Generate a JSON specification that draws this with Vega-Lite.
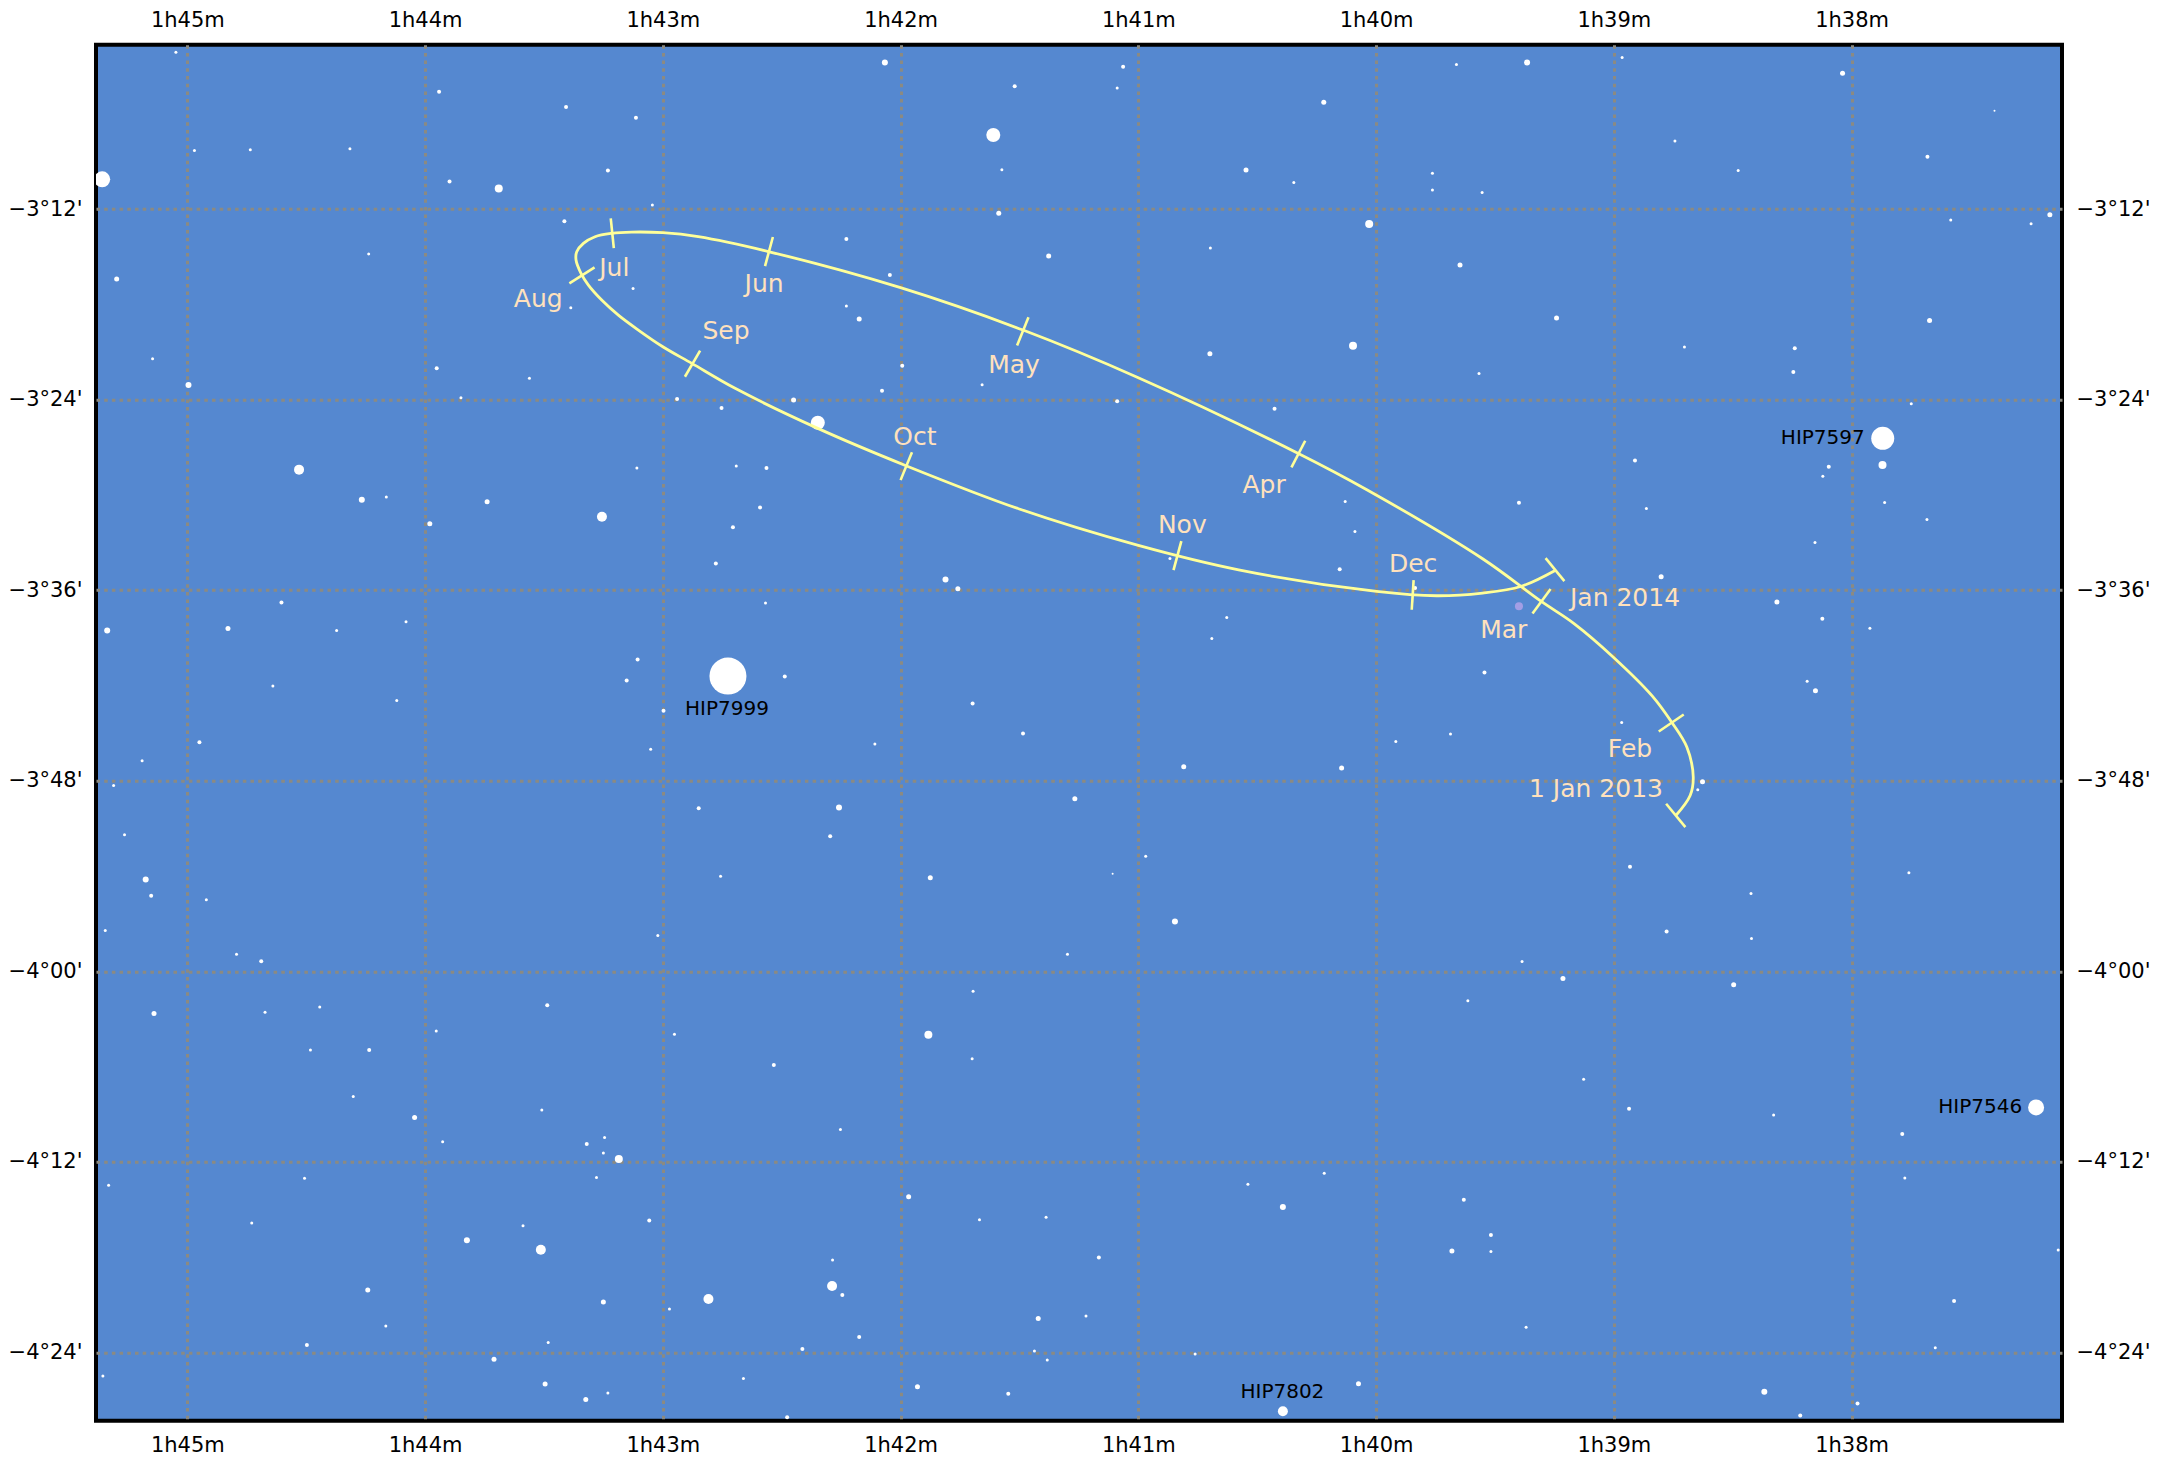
{"$schema":"https://vega.github.io/schema/vega-lite/v6.json","width":1966,"height":1376,"autosize":{"type":"none"},"padding":{"left":96,"right":95,"top":44.7,"bottom":40.3},"background":"white","config":{"view":{"fill":"#5588d0","stroke":"black","strokeWidth":4},"font":"DejaVu Sans"},
"datasets":{
"stars":[
{"ra":105.048,"dec":-182.13,"mag":13},{"ra":103.941,"dec":-184.61,"mag":12.5},{"ra":103.407,"dec":-185.58,"mag":12.5},{"ra":103.113,"dec":-186.25,"mag":12.5},{"ra":104.970,"dec":-188.31,"mag":13},{"ra":104.735,"dec":-188.26,"mag":13},{"ra":104.316,"dec":-188.20,"mag":13},{"ra":103.231,"dec":-189.57,"mag":12.5},{"ra":105.358,"dec":-190.13,"mag":9.5},{"ra":103.897,"dec":-190.26,"mag":12.5},{"ra":103.690,"dec":-190.70,"mag":11},{"ra":103.044,"dec":-191.75,"mag":13},{"ra":103.414,"dec":-192.76,"mag":12.5},{"ra":104.237,"dec":-194.83,"mag":13},{"ra":103.125,"dec":-197.00,"mag":13},{"ra":105.297,"dec":-196.41,"mag":12},{"ra":103.387,"dec":-198.21,"mag":13},{"ra":105.146,"dec":-201.43,"mag":13},{"ra":103.951,"dec":-202.03,"mag":12.5},{"ra":103.561,"dec":-202.66,"mag":13},{"ra":104.995,"dec":-203.08,"mag":11.5},{"ra":103.849,"dec":-203.88,"mag":13},{"ra":102.940,"dec":-203.96,"mag":12.5},{"ra":104.530,"dec":-208.41,"mag":10.5},{"ra":103.109,"dec":-208.31,"mag":13},
{"ra":102.066,"dec":-182.77,"mag":11.5},{"ra":101.064,"dec":-183.04,"mag":12.5},{"ra":101.520,"dec":-184.26,"mag":12.5},{"ra":101.089,"dec":-184.38,"mag":13},{"ra":100.220,"dec":-185.28,"mag":12},{"ra":101.610,"dec":-187.34,"mag":10},{"ra":101.574,"dec":-189.52,"mag":13},{"ra":100.547,"dec":-189.54,"mag":12},{"ra":100.346,"dec":-190.32,"mag":13},{"ra":99.763,"dec":-189.75,"mag":13},{"ra":99.763,"dec":-190.80,"mag":13},{"ra":101.587,"dec":-192.27,"mag":12},{"ra":100.029,"dec":-192.94,"mag":11},{"ra":102.228,"dec":-193.89,"mag":12.5},{"ra":100.697,"dec":-194.46,"mag":13},{"ra":101.377,"dec":-194.96,"mag":12},{"ra":102.045,"dec":-196.16,"mag":12.5},{"ra":102.228,"dec":-198.11,"mag":13},{"ra":102.174,"dec":-198.93,"mag":12},{"ra":101.993,"dec":-201.87,"mag":12.5},{"ra":100.097,"dec":-200.61,"mag":11},{"ra":100.699,"dec":-201.11,"mag":12},{"ra":101.657,"dec":-203.06,"mag":13},{"ra":102.078,"dec":-203.44,"mag":12.5},{"ra":102.450,"dec":-204.03,"mag":12},{"ra":102.753,"dec":-204.53,"mag":12.5},{"ra":101.089,"dec":-204.11,"mag":12.5},{"ra":102.348,"dec":-205.46,"mag":10},{"ra":100.427,"dec":-204.57,"mag":12.5},{"ra":102.564,"dec":-208.31,"mag":12.5},{"ra":102.691,"dec":-208.18,"mag":13},
{"ra":99.662,"dec":-182.89,"mag":13},{"ra":99.365,"dec":-182.77,"mag":11.5},{"ra":98.965,"dec":-182.45,"mag":13},{"ra":98.038,"dec":-183.44,"mag":12},{"ra":97.399,"dec":-185.81,"mag":13.5},{"ra":98.743,"dec":-187.72,"mag":13},{"ra":98.477,"dec":-189.57,"mag":13},{"ra":97.681,"dec":-188.71,"mag":12.5},{"ra":99.554,"dec":-190.95,"mag":13},{"ra":97.583,"dec":-192.69,"mag":13},{"ra":97.245,"dec":-192.92,"mag":13},{"ra":97.166,"dec":-192.36,"mag":12},{"ra":99.647,"dec":-195.53,"mag":12},{"ra":99.241,"dec":-198.86,"mag":12},{"ra":97.672,"dec":-199.01,"mag":12},{"ra":98.703,"dec":-200.69,"mag":13},{"ra":98.239,"dec":-200.77,"mag":12.5},{"ra":98.245,"dec":-202.26,"mag":12.5},{"ra":99.567,"dec":-202.35,"mag":13},{"ra":97.749,"dec":-204.26,"mag":13},{"ra":97.869,"dec":-206.44,"mag":9},{"ra":97.870,"dec":-208.12,"mag":11},{"ra":98.911,"dec":-207.83,"mag":12.5},{"ra":98.096,"dec":-208.23,"mag":12.5},{"ra":98.121,"dec":-208.83,"mag":13},
{"ra":104.266,"dec":-210.31,"mag":11.5},{"ra":104.163,"dec":-210.14,"mag":13},{"ra":103.739,"dec":-210.43,"mag":12},{"ra":103.980,"dec":-211.82,"mag":12},{"ra":103.256,"dec":-211.38,"mag":10.5},{"ra":102.777,"dec":-214.32,"mag":12.5},{"ra":104.604,"dec":-216.77,"mag":12.5},{"ra":105.337,"dec":-218.54,"mag":11.5},{"ra":104.829,"dec":-218.41,"mag":12},{"ra":104.372,"dec":-218.54,"mag":13},{"ra":104.080,"dec":-217.99,"mag":13},{"ra":103.106,"dec":-220.36,"mag":12.5},{"ra":103.152,"dec":-221.68,"mag":12.5},{"ra":104.640,"dec":-222.04,"mag":13},{"ra":104.119,"dec":-222.94,"mag":13},{"ra":102.997,"dec":-223.59,"mag":12.5},{"ra":104.949,"dec":-225.57,"mag":12.5},{"ra":103.051,"dec":-226.01,"mag":13},{"ra":105.190,"dec":-226.74,"mag":13},{"ra":105.310,"dec":-228.30,"mag":13},{"ra":105.264,"dec":-231.40,"mag":13},{"ra":102.849,"dec":-229.74,"mag":12.5},{"ra":105.175,"dec":-234.22,"mag":11.5},{"ra":105.152,"dec":-235.24,"mag":12.5},{"ra":104.920,"dec":-235.50,"mag":13},{"ra":103.021,"dec":-237.74,"mag":13},{"ra":105.345,"dec":-237.43,"mag":13},{"ra":104.793,"dec":-238.92,"mag":13},{"ra":104.689,"dec":-239.36,"mag":12.5},
{"ra":102.591,"dec":-210.79,"mag":12.5},{"ra":102.705,"dec":-212.03,"mag":12.5},{"ra":101.811,"dec":-215.32,"mag":11.5},{"ra":101.759,"dec":-215.91,"mag":12},{"ra":102.568,"dec":-216.81,"mag":13},{"ra":100.130,"dec":-210.41,"mag":13},{"ra":100.089,"dec":-212.30,"mag":13},{"ra":100.867,"dec":-214.00,"mag":13},{"ra":100.153,"dec":-214.69,"mag":12.5},{"ra":99.836,"dec":-215.87,"mag":12.5},{"ra":100.628,"dec":-217.72,"mag":13},{"ra":100.691,"dec":-219.04,"mag":13},{"ra":102.726,"dec":-221.41,"mag":8},{"ra":102.487,"dec":-221.43,"mag":12.5},{"ra":101.697,"dec":-223.13,"mag":12.5},{"ra":101.485,"dec":-225.02,"mag":12.5},{"ra":102.108,"dec":-225.69,"mag":13},{"ra":99.917,"dec":-225.53,"mag":13},{"ra":100.809,"dec":-227.12,"mag":12},{"ra":100.145,"dec":-227.20,"mag":12},{"ra":101.267,"dec":-229.14,"mag":12},{"ra":102.259,"dec":-229.68,"mag":11.5},{"ra":102.296,"dec":-231.49,"mag":12.5},{"ra":102.757,"dec":-234.01,"mag":13},{"ra":101.875,"dec":-234.11,"mag":12},{"ra":100.969,"dec":-232.75,"mag":13},{"ra":101.108,"dec":-233.86,"mag":13.5},{"ra":100.846,"dec":-236.86,"mag":11.5},{"ra":101.298,"dec":-238.92,"mag":13},
{"ra":99.399,"dec":-210.50,"mag":12.5},{"ra":98.863,"dec":-210.85,"mag":13},{"ra":97.861,"dec":-210.48,"mag":13},{"ra":97.683,"dec":-211.55,"mag":13},{"ra":98.154,"dec":-212.99,"mag":13},{"ra":98.801,"dec":-215.16,"mag":12},{"ra":98.314,"dec":-216.75,"mag":12},{"ra":98.123,"dec":-217.80,"mag":12.5},{"ra":97.923,"dec":-218.39,"mag":13},{"ra":99.544,"dec":-221.18,"mag":12.5},{"ra":98.187,"dec":-221.73,"mag":13},{"ra":98.152,"dec":-222.34,"mag":12},{"ra":98.967,"dec":-224.33,"mag":13},{"ra":99.687,"dec":-225.06,"mag":13},{"ra":98.627,"dec":-228.07,"mag":12},{"ra":98.647,"dec":-228.57,"mag":13},{"ra":98.932,"dec":-233.42,"mag":12.5},{"ra":97.759,"dec":-233.80,"mag":13},{"ra":98.423,"dec":-235.10,"mag":13},{"ra":98.778,"dec":-237.49,"mag":12.5},{"ra":98.421,"dec":-237.93,"mag":13},{"ra":99.386,"dec":-239.38,"mag":13},
{"ra":105.140,"dec":-242.65,"mag":12},{"ra":104.673,"dec":-242.58,"mag":13},{"ra":104.443,"dec":-242.25,"mag":13},{"ra":103.486,"dec":-242.14,"mag":12.5},{"ra":103.953,"dec":-243.76,"mag":13},{"ra":102.951,"dec":-243.97,"mag":13},{"ra":104.482,"dec":-244.96,"mag":13},{"ra":104.235,"dec":-244.96,"mag":12.5},{"ra":104.302,"dec":-247.89,"mag":13},{"ra":104.044,"dec":-249.20,"mag":12},{"ra":103.509,"dec":-248.73,"mag":13},{"ra":103.926,"dec":-250.73,"mag":13},{"ra":103.245,"dec":-250.46,"mag":13},{"ra":103.320,"dec":-250.87,"mag":12.5},{"ra":103.250,"dec":-251.44,"mag":13},{"ra":103.185,"dec":-251.82,"mag":11},{"ra":105.331,"dec":-253.48,"mag":13},{"ra":104.507,"dec":-253.04,"mag":13},{"ra":103.279,"dec":-252.99,"mag":13},{"ra":104.729,"dec":-255.85,"mag":13},{"ra":103.057,"dec":-255.70,"mag":12.5},{"ra":103.588,"dec":-256.02,"mag":13},{"ra":103.824,"dec":-256.94,"mag":11.5},{"ra":103.513,"dec":-257.53,"mag":10.5},{"ra":104.241,"dec":-260.07,"mag":12},{"ra":102.808,"dec":-260.64,"mag":10.5},{"ra":103.250,"dec":-260.82,"mag":12},{"ra":102.972,"dec":-261.26,"mag":13},{"ra":104.165,"dec":-262.34,"mag":13},{"ra":104.497,"dec":-263.53,"mag":12.5},{"ra":103.482,"dec":-263.38,"mag":13},{"ra":103.710,"dec":-264.43,"mag":12},{"ra":105.355,"dec":-265.48,"mag":13},{"ra":103.495,"dec":-265.99,"mag":12},{"ra":103.231,"dec":-266.55,"mag":13},{"ra":103.324,"dec":-266.97,"mag":12},
{"ra":101.695,"dec":-241.26,"mag":13},{"ra":101.883,"dec":-243.99,"mag":11},{"ra":102.533,"dec":-245.90,"mag":12.5},{"ra":101.699,"dec":-245.50,"mag":13},{"ra":102.253,"dec":-249.97,"mag":13},{"ra":100.218,"dec":-252.72,"mag":13},{"ra":100.539,"dec":-253.41,"mag":13},{"ra":101.966,"dec":-254.19,"mag":12},{"ra":100.392,"dec":-254.84,"mag":11.5},{"ra":101.668,"dec":-255.64,"mag":13},{"ra":101.388,"dec":-255.49,"mag":13},{"ra":102.286,"dec":-258.18,"mag":13},{"ra":101.166,"dec":-258.03,"mag":12.5},{"ra":102.288,"dec":-259.82,"mag":10.5},{"ra":102.245,"dec":-260.38,"mag":12.5},{"ra":101.421,"dec":-261.87,"mag":12},{"ra":101.220,"dec":-261.71,"mag":13},{"ra":102.174,"dec":-263.03,"mag":12.5},{"ra":102.413,"dec":-263.78,"mag":12.5},{"ra":101.437,"dec":-263.91,"mag":13},{"ra":100.761,"dec":-264.10,"mag":13},{"ra":101.383,"dec":-264.48,"mag":13},{"ra":102.661,"dec":-265.65,"mag":13},{"ra":101.929,"dec":-266.16,"mag":12},{"ra":101.547,"dec":-266.60,"mag":12.5},{"ra":100.074,"dec":-265.97,"mag":12},{"ra":102.477,"dec":-268.09,"mag":12.5},{"ra":100.392,"dec":-267.71,"mag":10.5},
{"ra":99.214,"dec":-240.46,"mag":12},{"ra":98.496,"dec":-240.84,"mag":12},{"ra":99.614,"dec":-241.85,"mag":13},{"ra":99.127,"dec":-246.80,"mag":13},{"ra":98.936,"dec":-248.65,"mag":12.5},{"ra":98.328,"dec":-249.05,"mag":13},{"ra":97.224,"dec":-248.57,"mag":9.5},{"ra":97.787,"dec":-250.25,"mag":12.5},{"ra":97.776,"dec":-253.02,"mag":13},{"ra":99.631,"dec":-254.38,"mag":12.5},{"ra":99.517,"dec":-256.61,"mag":12.5},{"ra":99.681,"dec":-257.61,"mag":12},{"ra":99.517,"dec":-257.65,"mag":13},{"ra":97.131,"dec":-257.55,"mag":13},{"ra":97.569,"dec":-260.76,"mag":12.5},{"ra":99.369,"dec":-262.42,"mag":13},{"ra":97.648,"dec":-263.70,"mag":13},{"ra":98.367,"dec":-266.47,"mag":11.5},{"ra":97.975,"dec":-267.21,"mag":12.5},{"ra":98.216,"dec":-267.98,"mag":12.5}
],
"object":[{"ra":99.399,"dec":-217.02,"mag":11.5}],
"orbit":[
{"i":0,"ra":98.739,"dec":-230.19},{"i":1,"ra":98.679,"dec":-228.93},{"i":2,"ra":98.666,"dec":-227.77},{"i":3,"ra":98.693,"dec":-225.88},{"i":4,"ra":98.755,"dec":-224.35},{"i":5,"ra":98.838,"dec":-222.67},{"i":6,"ra":99.002,"dec":-220.22},{"i":7,"ra":99.166,"dec":-218.12},{"i":8,"ra":99.305,"dec":-216.71},{"i":9,"ra":99.552,"dec":-214.02},{"i":10,"ra":100.037,"dec":-209.69},{"i":11,"ra":100.327,"dec":-207.39},{"i":12,"ra":101.000,"dec":-202.62},{"i":13,"ra":101.485,"dec":-199.62},{"i":14,"ra":102.000,"dec":-196.95},{"i":15,"ra":102.552,"dec":-194.69},{"i":16,"ra":102.851,"dec":-193.74},{"i":17,"ra":103.000,"dec":-193.49},{"i":18,"ra":103.131,"dec":-193.45},{"i":19,"ra":103.215,"dec":-193.53},{"i":20,"ra":103.285,"dec":-193.74},{"i":21,"ra":103.334,"dec":-194.16},{"i":22,"ra":103.362,"dec":-194.69},{"i":23,"ra":103.365,"dec":-195.21},{"i":24,"ra":103.344,"dec":-196.05},{"i":25,"ra":103.313,"dec":-196.79},{"i":26,"ra":103.257,"dec":-197.73},{"i":27,"ra":103.187,"dec":-198.68},{"i":28,"ra":103.103,"dec":-199.62},{"i":29,"ra":103.000,"dec":-200.67},{"i":30,"ra":102.878,"dec":-201.72},{"i":31,"ra":102.696,"dec":-203.29},{"i":32,"ra":102.348,"dec":-205.81},{"i":33,"ra":101.977,"dec":-208.16},{"i":34,"ra":101.504,"dec":-210.87},{"i":35,"ra":101.000,"dec":-213.18},{"i":36,"ra":100.578,"dec":-214.72},{"i":37,"ra":99.998,"dec":-216.08},{"i":38,"ra":99.745,"dec":-216.35},{"i":39,"ra":99.552,"dec":-216.18},{"i":40,"ra":99.392,"dec":-215.77},{"i":41,"ra":99.245,"dec":-214.74}
],
"ticks":[
{"m":"Jan 2013","e":0,"ra":98.780,"dec":-229.45},{"m":"Jan 2013","e":1,"ra":98.699,"dec":-230.92},
{"m":"Feb","e":0,"ra":98.811,"dec":-224.90},{"m":"Feb","e":1,"ra":98.706,"dec":-223.83},
{"m":"Mar","e":0,"ra":99.342,"dec":-217.47},{"m":"Mar","e":1,"ra":99.266,"dec":-215.93},
{"m":"Apr","e":0,"ra":100.356,"dec":-208.27},{"m":"Apr","e":1,"ra":100.298,"dec":-206.59},
{"m":"May","e":0,"ra":101.510,"dec":-200.59},{"m":"May","e":1,"ra":101.462,"dec":-198.82},
{"m":"Jun","e":0,"ra":102.570,"dec":-195.59},{"m":"Jun","e":1,"ra":102.537,"dec":-193.76},
{"m":"Jul","e":0,"ra":103.219,"dec":-192.59},{"m":"Jul","e":1,"ra":103.206,"dec":-194.46},
{"m":"Aug","e":0,"ra":103.393,"dec":-196.68},{"m":"Aug","e":1,"ra":103.287,"dec":-195.67},
{"m":"Sep","e":0,"ra":102.907,"dec":-202.56},{"m":"Sep","e":1,"ra":102.843,"dec":-200.92},
{"m":"Oct","e":0,"ra":102.000,"dec":-209.07},{"m":"Oct","e":1,"ra":101.952,"dec":-207.32},
{"m":"Nov","e":0,"ra":100.852,"dec":-214.74},{"m":"Nov","e":1,"ra":100.819,"dec":-212.91},
{"m":"Dec","e":0,"ra":99.850,"dec":-217.23},{"m":"Dec","e":1,"ra":99.842,"dec":-215.37},
{"m":"Jan 2014","e":0,"ra":99.287,"dec":-213.98},{"m":"Jan 2014","e":1,"ra":99.208,"dec":-215.43}
],
"months":[
{"t":"Jul","ra":103.204,"dec":-195.72},{"t":"Aug","ra":103.524,"dec":-197.68},{"t":"Sep","ra":102.734,"dec":-199.67},{"t":"Jun","ra":102.574,"dec":-196.73},{"t":"May","ra":101.523,"dec":-201.81},{"t":"Oct","ra":101.940,"dec":-206.34},{"t":"Apr","ra":100.471,"dec":-209.37},{"t":"Nov","ra":100.815,"dec":-211.87},{"t":"Dec","ra":99.844,"dec":-214.35},{"t":"Jan 2014","ra":98.953,"dec":-216.49},{"t":"Mar","ra":99.463,"dec":-218.52},{"t":"Feb","ra":98.932,"dec":-226.00},{"t":"1 Jan 2013","ra":99.075,"dec":-228.51}
],
"names":[
{"t":"HIP7597","ra":98.121,"dec":-206.44},{"t":"HIP7546","ra":97.459,"dec":-248.57},{"t":"HIP7999","ra":102.730,"dec":-223.47},{"t":"HIP7802","ra":100.394,"dec":-266.49}
]
},
"resolve":{"axis":{"x":"independent","y":"independent"}},
"layer":[
{"data":{"name":"stars"},"mark":{"type":"circle","clip":true,"opacity":1,"color":"white"},
"encoding":{
"x":{"field":"ra","type":"quantitative","scale":{"domain":[105.384,97.115],"nice":false,"zero":false},"axis":{"orient":"bottom","title":null,"values":[98,99,100,101,102,103,104,105],"labelExpr":"'1h' + (datum.value - 60) + 'm'","grid":true,"gridColor":"#8b8a82","gridWidth":3,"gridDash":[3.5,4.2],"gridOpacity":1,"ticks":false,"domain":false,"labelFontSize":21,"labelPadding":14,"labelColor":"black","labelFont":"DejaVu Sans"}},
"y":{"field":"dec","type":"quantitative","scale":{"domain":[-268.3,-181.65],"nice":false,"zero":false},"axis":{"orient":"left","title":null,"values":[-192,-204,-216,-228,-240,-252,-264],"labelExpr":"'−' + floor(abs(datum.value)/60) + '°' + (abs(datum.value)%60 < 10 ? '0' : '') + (abs(datum.value)%60) + \"'\"","grid":true,"gridColor":"#8b8a82","gridWidth":3,"gridDash":[3.5,4.2],"gridOpacity":1,"ticks":false,"domain":false,"labelFontSize":21,"labelPadding":14,"labelColor":"black","labelFont":"DejaVu Sans"}},
"size":{"field":"mag","type":"quantitative","legend":null,"scale":{"domain":[8,9,9.5,10,10.5,11,11.5,12,12.5,13,13.5],"range":[1369,529,256,196,100,64,36,25,16,9,4]}}
}},
{"data":{"name":"object"},"mark":{"type":"circle","clip":true,"opacity":0.8,"color":"#b6a4ea","size":64},
"encoding":{
"x":{"field":"ra","type":"quantitative","scale":{"domain":[105.384,97.115],"nice":false,"zero":false},"axis":{"orient":"top","title":null,"values":[98,99,100,101,102,103,104,105],"labelExpr":"'1h' + (datum.value - 60) + 'm'","grid":false,"ticks":false,"domain":false,"labelFontSize":21,"labelPadding":14,"labelColor":"black","labelFont":"DejaVu Sans"}},
"y":{"field":"dec","type":"quantitative","scale":{"domain":[-268.3,-181.65],"nice":false,"zero":false},"axis":{"orient":"right","title":null,"values":[-192,-204,-216,-228,-240,-252,-264],"labelExpr":"'−' + floor(abs(datum.value)/60) + '°' + (abs(datum.value)%60 < 10 ? '0' : '') + (abs(datum.value)%60) + \"'\"","grid":false,"ticks":false,"domain":false,"labelFontSize":21,"labelPadding":14,"labelColor":"black","labelFont":"DejaVu Sans"}}
}},
{"data":{"name":"orbit"},"mark":{"type":"line","interpolate":"catmull-rom","color":"#ffff99","strokeWidth":2.8,"clip":true},
"encoding":{"order":{"field":"i","type":"quantitative"},"x":{"field":"ra","type":"quantitative","axis":null,"scale":{"domain":[105.384,97.115],"nice":false,"zero":false}},"y":{"field":"dec","type":"quantitative","axis":null,"scale":{"domain":[-268.3,-181.65],"nice":false,"zero":false}}}},
{"data":{"name":"ticks"},"mark":{"type":"line","color":"#ffff99","strokeWidth":2.6,"clip":true},
"encoding":{"detail":{"field":"m"},"order":{"field":"e","type":"quantitative"},"x":{"field":"ra","type":"quantitative","axis":null,"scale":{"domain":[105.384,97.115],"nice":false,"zero":false}},"y":{"field":"dec","type":"quantitative","axis":null,"scale":{"domain":[-268.3,-181.65],"nice":false,"zero":false}}}},
{"data":{"name":"months"},"mark":{"type":"text","color":"#ffe1bd","fontSize":25,"font":"DejaVu Sans","align":"center","baseline":"middle"},
"encoding":{"text":{"field":"t"},"x":{"field":"ra","type":"quantitative","axis":null,"scale":{"domain":[105.384,97.115],"nice":false,"zero":false}},"y":{"field":"dec","type":"quantitative","axis":null,"scale":{"domain":[-268.3,-181.65],"nice":false,"zero":false}}}},
{"data":{"name":"names"},"mark":{"type":"text","color":"black","fontSize":20,"font":"DejaVu Sans","align":"center","baseline":"middle"},
"encoding":{"text":{"field":"t"},"x":{"field":"ra","type":"quantitative","axis":null,"scale":{"domain":[105.384,97.115],"nice":false,"zero":false}},"y":{"field":"dec","type":"quantitative","axis":null,"scale":{"domain":[-268.3,-181.65],"nice":false,"zero":false}}}}
]}
